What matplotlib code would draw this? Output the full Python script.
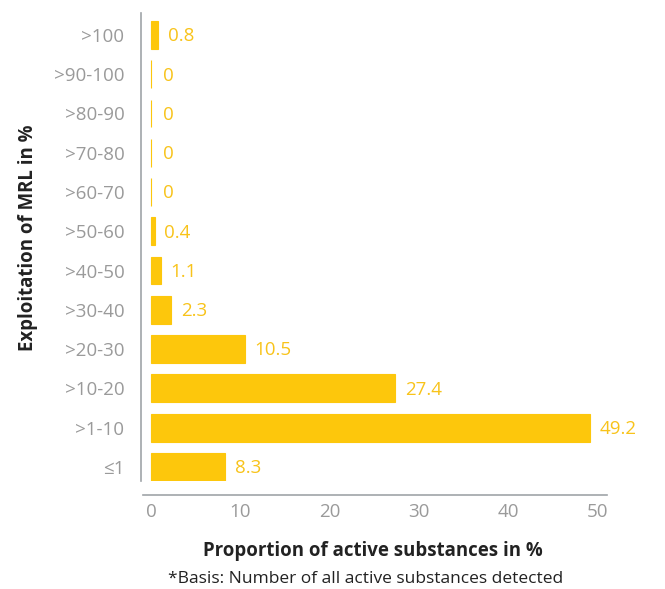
import matplotlib.pyplot as plt

categories = ['≤1', '>1-10', '>10-20', '>20-30', '>30-40', '>40-50',
              '>50-60', '>60-70', '>70-80', '>80-90', '>90-100', '>100']
values = [8.3, 49.2, 27.4, 10.5, 2.3, 1.1, 0.4, 0, 0, 0, 0, 0.8]
value_labels = ['8.3', '49.2', '27.4', '10.5', '2.3', '1.1', '0.4',
                '0', '0', '0', '0', '0.8']
x_ticks = [0, 10, 20, 30, 40, 50]

bar_color = '#FDC70C'
label_color = '#F8C31A'
gray = '#9A9A9A'
dark = '#222222'

plt.rcParams['font.family'] = ['Open Sans', 'DejaVu Sans']

fig = plt.figure(figsize=(6.65, 5.89), dpi=100)
ax = fig.add_axes([0.212, 0.1834, 0.701, 0.7946])

ypos = list(range(len(categories)))
ax.barh(ypos, values, height=0.71, color=bar_color,
        edgecolor=bar_color, linewidth=0.8)

for y, v, lab in zip(ypos, values, value_labels):
    ax.annotate(lab, (v, y), xytext=(7 if v > 0 else 9, -1),
                textcoords='offset points', va='center', ha='left',
                color=label_color, fontsize=13.5)

ax.set_xlim(-1.12, 51.12)
ax.set_ylim(-0.36, 11.56)
ax.set_yticks(ypos)
ax.set_yticklabels(categories)
ax.set_xticks(x_ticks)
ax.tick_params(axis='both', length=0, colors=gray, labelsize=13.5)
ax.tick_params(axis='y', pad=12)
ax.tick_params(axis='x', pad=6)

for s in ['top', 'right']:
    ax.spines[s].set_visible(False)
ax.spines['left'].set_color('#A0A4A8')
ax.spines['bottom'].set_color('#A0A4A8')
ax.spines['left'].set_linewidth(1.2)
ax.spines['bottom'].set_linewidth(1.2)
ax.spines['bottom'].set_position(('outward', 10))
ax.spines['bottom'].set_bounds(-0.9, 51.12)

fig.text(0.042, 0.597, 'Exploitation of MRL in %', rotation=90,
         ha='center', va='center', fontsize=13.4, fontweight='bold', color=dark)
fig.text(0.56, 0.064, 'Proportion of active substances in %',
         ha='center', va='center', fontsize=13.4, fontweight='bold', color=dark)
fig.text(0.55, 0.017, '*Basis: Number of all active substances detected',
         ha='center', va='center', fontsize=12.5, color=dark)

fig.savefig('out.png', dpi=100)
